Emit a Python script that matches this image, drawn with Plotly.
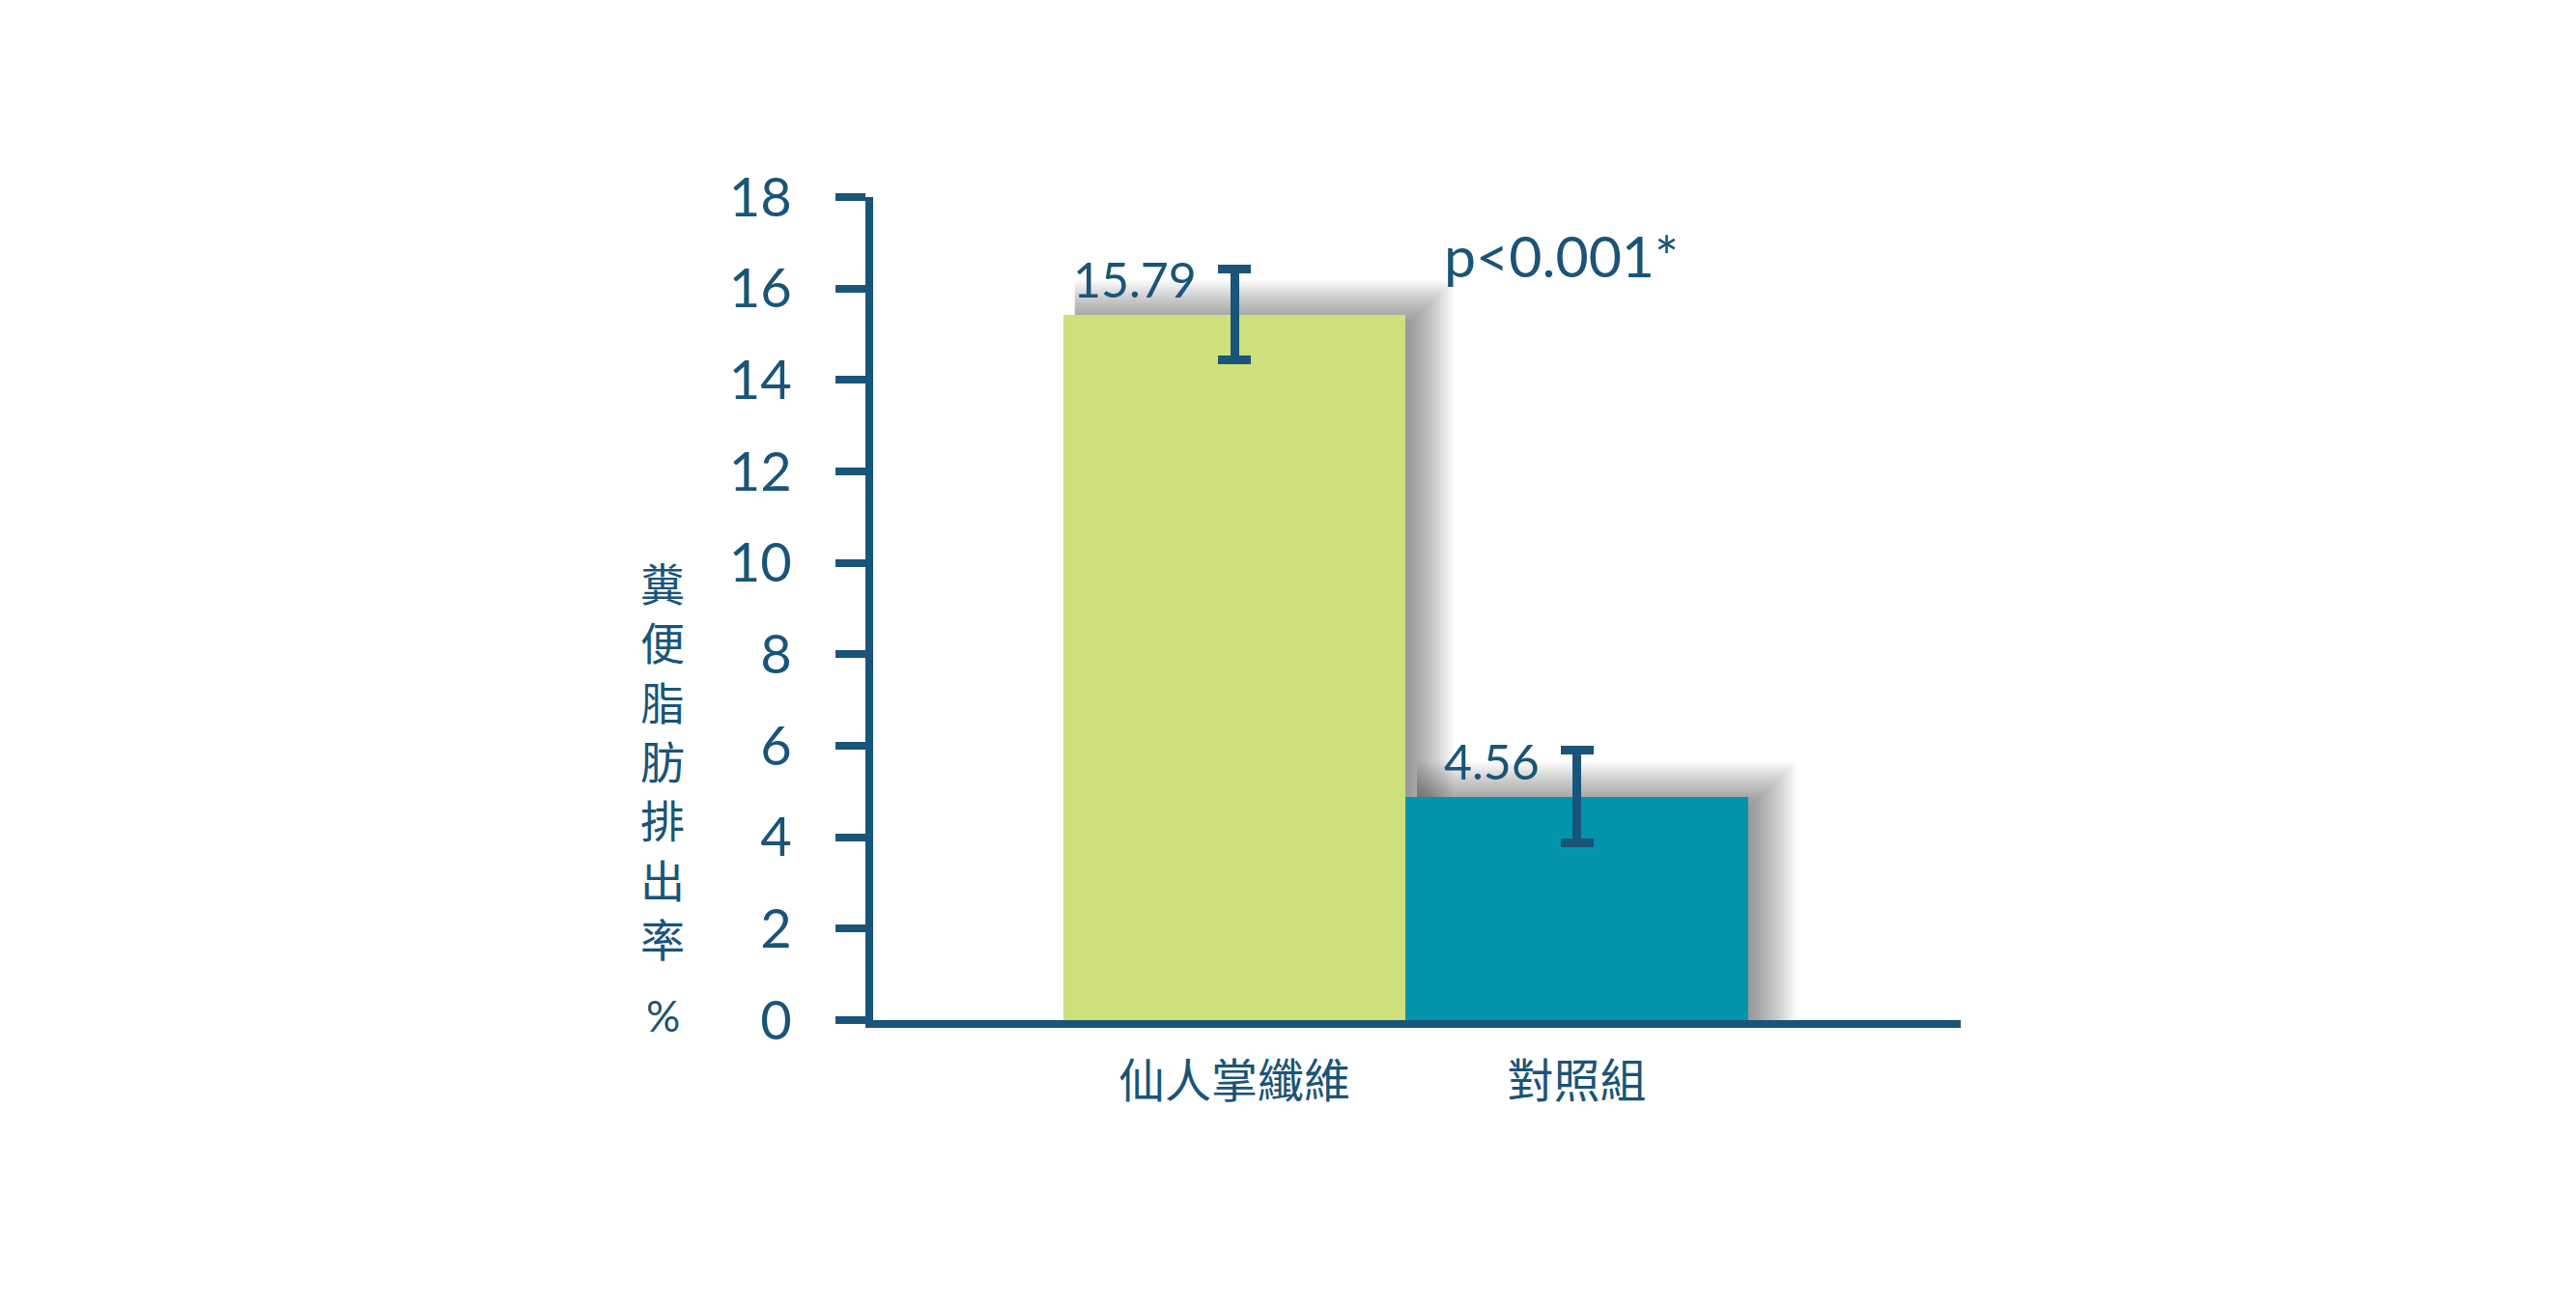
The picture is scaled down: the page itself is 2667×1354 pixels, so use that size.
import plotly.graph_objects as go

# data
groups = ["仙人掌纖維", "對照組"]
bar_values = [15.43, 4.89]          # drawn heights
error_values = [0.99, 1.01]
value_labels = ["15.79", "4.56"]    # printed labels
p_text = "p<0.001*"
y_ticks = [0, 2, 4, 6, 8, 10, 12, 14, 16, 18]
y_title = "糞便脂肪排出率"

NAVY = "#1a5478"
bar_colors = ["#cde07b", "#0394ac"]
FONT = "Lato, Noto Sans CJK TC, sans-serif"
CJK = "Noto Sans CJK TC"

W, H = 2667, 1354
L, R, T, B = 896, 645, 196, 306
x_range = [-1.055, 2.121]
px_x = (W - L - R) / (x_range[1] - x_range[0])   # pixels per x unit
px_y = (H - T - B) / 18.0                         # pixels per y unit

xs = list(range(len(groups)))

fig = go.Figure()
fig.add_trace(go.Bar(
    x=xs, y=bar_values, width=1.0,
    marker=dict(color=bar_colors, line=dict(width=0)),
    error_y=dict(type="data", array=error_values, visible=True,
                 color=NAVY, thickness=9, width=17),
    hoverinfo="skip",
))

# soft drop shadow behind each bar (stacked translucent rectangles)
shapes = []
n_layers = 24
for i, v in enumerate(bar_values):
    for k in range(n_layers):
        shapes.append(dict(
            type="rect", layer="below", line=dict(width=0),
            fillcolor="rgba(50,50,50,0.022)",
            x0=i - 0.5 + 12 / px_x,
            x1=i + 0.5 + (4 + 2 * k) / px_x,
            y0=-(1.0 * k) / px_y,
            y1=v + (-8 + 1.9 * k) / px_y,
        ))

annotations = []
for i, (v, lab) in enumerate(zip(bar_values, value_labels)):
    annotations.append(dict(
        x=i, y=v, text=lab, showarrow=False, xanchor="right", yanchor="middle",
        xshift=-37, yshift=37, font=dict(family=FONT, size=50, color=NAVY)))

annotations.append(dict(
    x=0.605, y=16.55, yshift=8, text=p_text, showarrow=False,
    xanchor="left", yanchor="middle",
    font=dict(family=FONT, size=59, color=NAVY)))

# stacked vertical axis title, one character per row
for i, ch in enumerate(y_title):
    annotations.append(dict(
        xref="paper", x=0, xshift=-218, yref="y", y=0, yshift=454 - 61.3 * i,
        text=ch, showarrow=False, xanchor="center", yanchor="middle",
        font=dict(family=CJK, size=46, color=NAVY)))
annotations.append(dict(
    xref="paper", x=0, xshift=-218, yref="y", y=0, yshift=5, text="%",
    showarrow=False, xanchor="center", yanchor="middle",
    font=dict(family=FONT, size=44, color=NAVY)))

fig.update_layout(
    width=W, height=H,
    margin=dict(l=L, r=R, t=T, b=B),
    paper_bgcolor="white", plot_bgcolor="white",
    showlegend=False, bargap=0,
    shapes=shapes, annotations=annotations,
    xaxis=dict(
        range=x_range, tickvals=xs, ticktext=groups,
        showgrid=False, zeroline=False, showline=True, linecolor=NAVY,
        linewidth=8, ticks="", ticklabelstandoff=14,
        tickfont=dict(family=CJK, size=48, color=NAVY),
    ),
    yaxis=dict(
        range=[0, 18], tickvals=y_ticks, showgrid=False, zeroline=False,
        showline=True, linecolor=NAVY, linewidth=8,
        ticks="outside", ticklen=31, tickwidth=8, tickcolor=NAVY,
        ticklabelstandoff=34,
        tickfont=dict(family=FONT, size=56, color=NAVY),
    ),
)

fig.write_html("out.html")
